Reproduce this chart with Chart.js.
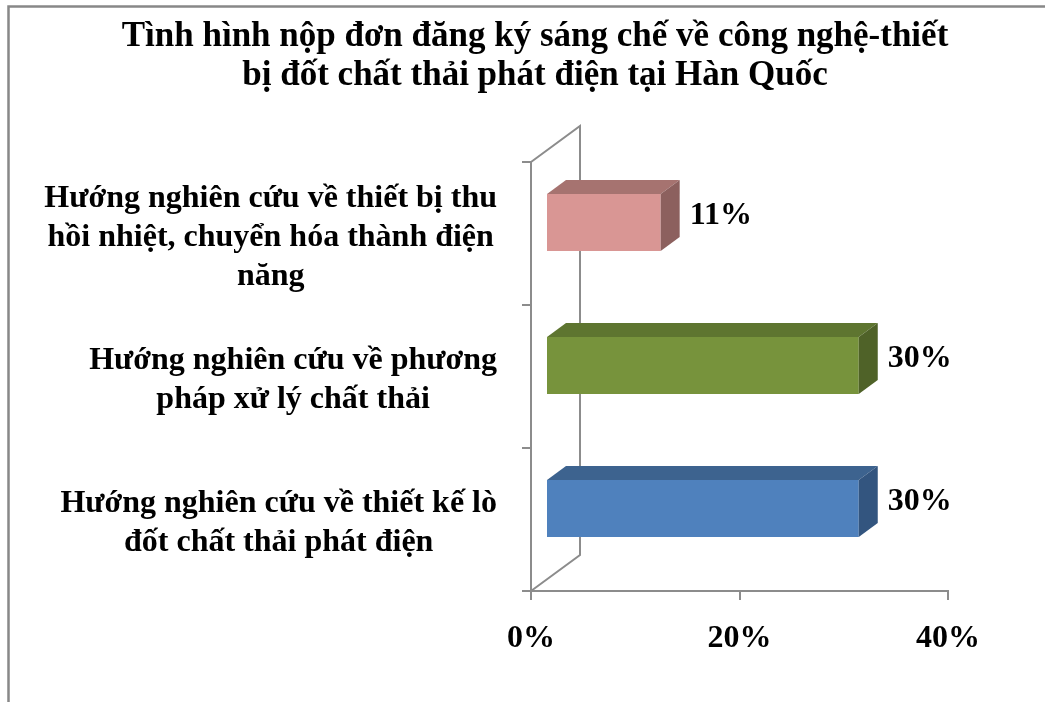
<!DOCTYPE html>
<html>
<head>
<meta charset="utf-8">
<script src="https://cdn.jsdelivr.net/npm/chart.js@4.4.1/dist/chart.umd.min.js"></script>
<style>
  html, body { margin: 0; padding: 0; background: #fff; }
  #wrap { width: 1045px; height: 702px; position: relative; }
</style>
</head>
<body>
<div id="wrap"><canvas id="chart"></canvas></div>
<script>
// ── Data ──
const TITLE_LINES = [
  "Tình hình nộp đơn đăng ký sáng chế về công nghệ-thiết",
  "bị đốt chất thải phát điện tại Hàn Quốc"
];
const CATEGORIES = [
  ["Hướng nghiên cứu về thiết bị thu", "hồi nhiệt, chuyển hóa thành điện", "năng"],
  ["Hướng nghiên cứu về phương", "pháp xử lý chất thải"],
  ["Hướng nghiên cứu về thiết kế lò", "đốt chất thải phát điện"]
];
const VALUES = [11, 30, 30];
const X_TICKS = [0, 20, 40];

// ── Style ──
const FRONT = ["#D99694", "#77933C", "#4F81BD"];
const TOPF  = ["#A67370", "#5E7530", "#3D638F"];
const SIDE  = ["#8C605E", "#4F6228", "#33557F"];
const AXIS  = "#8C8C8C";
const FONT  = "'Liberation Serif', 'Times New Roman', serif";

const WALL  = { dx: 49, dy: -36 };   // back wall offset
const BAR   = { dx: 15, dy: -11 };   // bar front face offset
const DEPTH = { dx: 19, dy: -14 };   // bar depth

/* ================================================================
   3D PLUGIN
   ================================================================ */
const threeD = {
  id: "threeD",
  beforeDatasetsDraw(chart) {
    const { ctx, chartArea: a } = chart;
    // left wall outline
    ctx.save();
    ctx.strokeStyle = AXIS;
    ctx.lineWidth = 2;
    ctx.beginPath();
    ctx.moveTo(a.left, a.top);
    ctx.lineTo(a.left + WALL.dx, a.top + WALL.dy);
    ctx.lineTo(a.left + WALL.dx, a.bottom + WALL.dy);
    ctx.lineTo(a.left, a.bottom);
    ctx.stroke();
    ctx.restore();
    // shift bar front faces
    ctx.save();
    ctx.translate(BAR.dx, BAR.dy);
  },
  afterDatasetsDraw(chart) {
    const { ctx } = chart;
    ctx.restore();
    const meta = chart.getDatasetMeta(0);
    meta.data.forEach((el, i) => {
      const p = el.getProps(["x", "y", "base", "height"], true);
      const x0 = p.base + BAR.dx, x1 = p.x + BAR.dx;
      const yT = p.y - p.height / 2 + BAR.dy, yB = p.y + p.height / 2 + BAR.dy;
      // top face
      ctx.fillStyle = TOPF[i];
      ctx.beginPath();
      ctx.moveTo(x0, yT);
      ctx.lineTo(x0 + DEPTH.dx, yT + DEPTH.dy);
      ctx.lineTo(x1 + DEPTH.dx, yT + DEPTH.dy);
      ctx.lineTo(x1, yT);
      ctx.closePath();
      ctx.fill();
      // side face
      ctx.fillStyle = SIDE[i];
      ctx.beginPath();
      ctx.moveTo(x1, yT);
      ctx.lineTo(x1 + DEPTH.dx, yT + DEPTH.dy);
      ctx.lineTo(x1 + DEPTH.dx, yB + DEPTH.dy);
      ctx.lineTo(x1, yB);
      ctx.closePath();
      ctx.fill();
      // value label
      ctx.fillStyle = "#000";
      ctx.font = "bold 32px " + FONT;
      ctx.textAlign = "left";
      ctx.textBaseline = "middle";
      ctx.fillText(VALUES[i] + "%", x1 + DEPTH.dx + 10, p.y + BAR.dy + DEPTH.dy / 2);
    });
  },
  afterDraw(chart) {
    const { ctx } = chart;
    const ys = chart.scales.y;
    // category labels: block right-aligned, lines centred
    ctx.save();
    ctx.fillStyle = "#000";
    ctx.font = "bold 32px " + FONT;
    ctx.textAlign = "center";
    ctx.textBaseline = "middle";
    const lh = 39, right = 497;
    CATEGORIES.forEach((lines, i) => {
      const w = Math.max(...lines.map(l => ctx.measureText(l).width));
      const cx = right - w / 2;
      const cy = ys.getPixelForValue(i) + 4;
      lines.forEach((l, j) => {
        ctx.fillText(l, cx, cy + (j - (lines.length - 1) / 2) * lh);
      });
    });
    // frame (top + left edges)
    ctx.strokeStyle = "#888";
    ctx.lineWidth = 2.5;
    ctx.beginPath();
    ctx.moveTo(8.5, chart.height);
    ctx.lineTo(8.5, 6.5);
    ctx.lineTo(chart.width, 6.5);
    ctx.stroke();
    ctx.restore();
  }
};

/* ================================================================
   CHART
   ================================================================ */
new Chart(document.getElementById("chart"), {
  type: "bar",
  data: {
    labels: CATEGORIES,
    datasets: [{
      data: VALUES,
      backgroundColor: FRONT,
      borderWidth: 0,
      barPercentage: 0.4,
      categoryPercentage: 1
    }]
  },
  options: {
    indexAxis: "y",
    responsive: true,
    maintainAspectRatio: false,
    animation: false,
    layout: { padding: { left: 25, right: 0, top: 0, bottom: 0 } },
    plugins: {
      legend: { display: false },
      tooltip: { enabled: false },
      title: {
        display: true,
        text: TITLE_LINES,
        color: "#000",
        font: { family: FONT, size: 35, weight: "bold", lineHeight: 1.1 },
        padding: { top: 18, bottom: 67 }
      }
    },
    scales: {
      x: {
        min: 0,
        max: 40,
        afterBuildTicks: s => { s.ticks = X_TICKS.map(v => ({ value: v })); },
        afterFit: s => { s.height = 702 - 591; },
        border: { display: true, color: AXIS, width: 2 },
        grid: { drawOnChartArea: false, drawTicks: true, tickLength: 9, color: AXIS, lineWidth: 2 },
        ticks: {
          color: "#000",
          padding: 20,
          font: { family: FONT, size: 32, weight: "bold" },
          callback: v => v + "%"
        }
      },
      y: {
        afterFit: s => { s.width = 531 - 25; },
        border: { display: true, color: AXIS, width: 2 },
        grid: { drawOnChartArea: false, drawTicks: true, tickLength: 9, color: AXIS, lineWidth: 2 },
        ticks: { display: false }
      },
      yr: {
        type: "linear",
        position: "right",
        display: true,
        border: { display: false },
        grid: { display: false },
        ticks: { display: false },
        afterFit: s => { s.width = 1045 - 948; }
      }
    }
  },
  plugins: [threeD]
});
</script>
</body>
</html>
